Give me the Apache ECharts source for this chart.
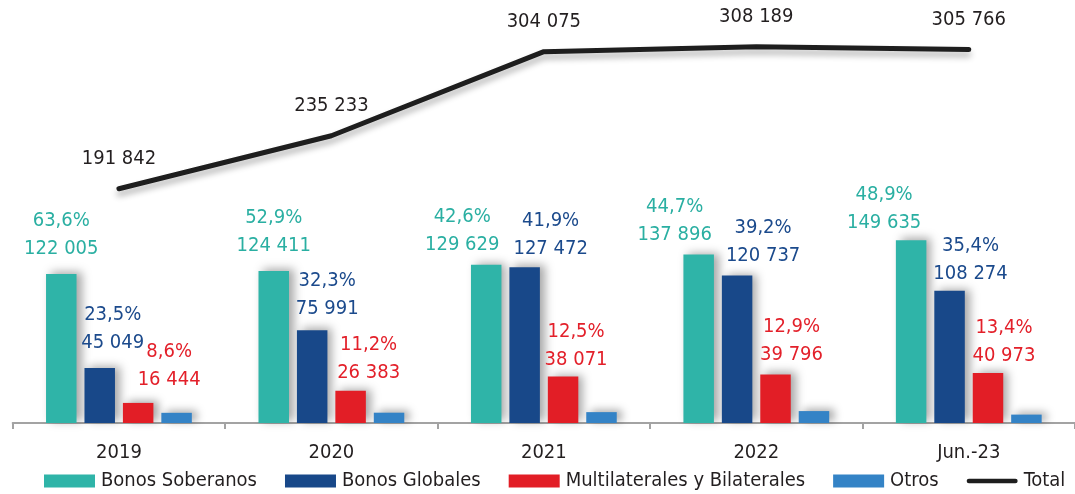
<!DOCTYPE html>
<html>
<head>
<meta charset="utf-8">
<script src="https://cdn.jsdelivr.net/npm/echarts@6/dist/echarts.min.js"></script>
<style>
  html, body { margin: 0; padding: 0; background: #fff; }
  #chart { width: 1075px; height: 494px; }
</style>
</head>
<body>
<div id="chart"></div>
<script>
// categorías y valores (millones)
const categories = ['2019', '2020', '2021', '2022', 'Jun.-23'];
const soberanos = [122005, 124411, 129629, 137896, 149635];
const globales = [45049, 75991, 127472, 120737, 108274];
const multilaterales = [16444, 26383, 38071, 39796, 40973];
const otros = [8344, 8448, 8903, 9760, 6884];
const total = [191842, 235233, 304075, 308189, 305766];

// participación sobre el total, tal como aparece en la figura
const shareSoberanos = ['63,6%', '52,9%', '42,6%', '44,7%', '48,9%'];
const shareGlobales = ['23,5%', '32,3%', '41,9%', '39,2%', '35,4%'];
const shareMultilaterales = ['8,6%', '11,2%', '12,5%', '12,9%', '13,4%'];

const FONT = "'DejaVu Sans Condensed', 'Liberation Sans', sans-serif";
const fmt = (v) => String(v).replace(/\B(?=(\d{3})+(?!\d))/g, ' ');

// pequeños desplazamientos de etiquetas [dx, dy] para imitar la colocación manual
const nudge = {
  soberanos: [[0, -5], [0, -5], [-24, 0], [-24, 0], [-27, 3]],
  globales: [[13, -5], [15, -1], [26, 1], [26, 0], [21, 3]],
  multilaterales: [[31, -3], [18, 2], [13, 3], [16, 0], [16, 3]]
};

const barShadow = {
  shadowColor: 'rgba(0,0,0,0.35)',
  shadowBlur: 9,
  shadowOffsetX: 5,
  shadowOffsetY: -2
};

function barSeries(name, values, shares, color, textColor, key) {
  return {
    name,
    type: 'bar',
    barWidth: 30.5,
    barGap: '26%',
    barCategoryGap: '31.5%',
    itemStyle: Object.assign({ color }, barShadow),
    data: values.map((v, i) => {
      const item = { value: v };
      if (shares) {
        item.label = {
          show: true,
          position: 'top',
          distance: 6,
          offset: nudge[key][i],
          formatter: () => `{t|${shares[i]}}\n{t|${fmt(v)}}`,
          rich: {
            t: { fontFamily: FONT, fontSize: 20, lineHeight: 28, color: textColor }
          }
        };
      }
      return item;
    })
  };
}

const chart = echarts.init(document.getElementById('chart'));

chart.setOption({
  animation: false,
  grid: { left: 12.7, right: -6, top: 0, bottom: 71, containLabel: false },
  legend: {
    left: 39,
    top: 466,
    itemWidth: 51,
    itemHeight: 13,
    itemGap: 28,
    textStyle: { fontFamily: FONT, fontSize: 20, color: '#231f20', padding: [0, 0, 0, 1] },
    itemStyle: { shadowBlur: 0, shadowColor: 'transparent' },
    data: [
      { name: 'Bonos Soberanos', icon: 'rect' },
      { name: 'Bonos Globales', icon: 'rect' },
      { name: 'Multilaterales y Bilaterales', icon: 'rect' },
      { name: 'Otros', icon: 'rect' },
      {
        name: 'Total',
        icon: 'path://M2.5,0H53.5A2.5,2.5 0 0 1 53.5,5H2.5A2.5,2.5 0 0 1 2.5,0Z'
      }
    ]
  },
  xAxis: {
    type: 'category',
    data: categories,
    axisLine: { lineStyle: { color: '#a3a3a3', width: 2 } },
    axisTick: { show: true, length: 6, lineStyle: { color: '#a3a3a3', width: 2 } },
    axisLabel: { fontFamily: FONT, fontSize: 20, color: '#231f20', margin: 20 }
  },
  yAxis: {
    type: 'value',
    min: 0,
    max: 346400,
    show: false,
    splitLine: { show: false }
  },
  series: [
    barSeries('Bonos Soberanos', soberanos, shareSoberanos, '#2fb4a8', '#2aafa2', 'soberanos'),
    barSeries('Bonos Globales', globales, shareGlobales, '#184889', '#1b4a8c', 'globales'),
    barSeries('Multilaterales y Bilaterales', multilaterales, shareMultilaterales, '#e21e26', '#e3202a', 'multilaterales'),
    barSeries('Otros', otros, null, '#3483c6', null, 'otros'),
    {
      name: 'Total',
      type: 'line',
      data: total,
      z: 5,
      color: '#1e1e1e',
      symbol: 'circle',
      symbolSize: 1,
      showSymbol: true,
      itemStyle: { color: '#1e1e1e' },
      lineStyle: {
        width: 5,
        color: '#1e1e1e',
        cap: 'round',
        join: 'round',
        shadowColor: 'rgba(0,0,0,0.3)',
        shadowBlur: 6,
        shadowOffsetY: 5
      },
      label: {
        show: true,
        position: 'top',
        distance: 18,
        fontFamily: FONT,
        fontSize: 20,
        lineHeight: 23,
        color: '#231f20',
        formatter: (p) => fmt(p.value)
      }
    }
  ]
});
</script>
</body>
</html>
